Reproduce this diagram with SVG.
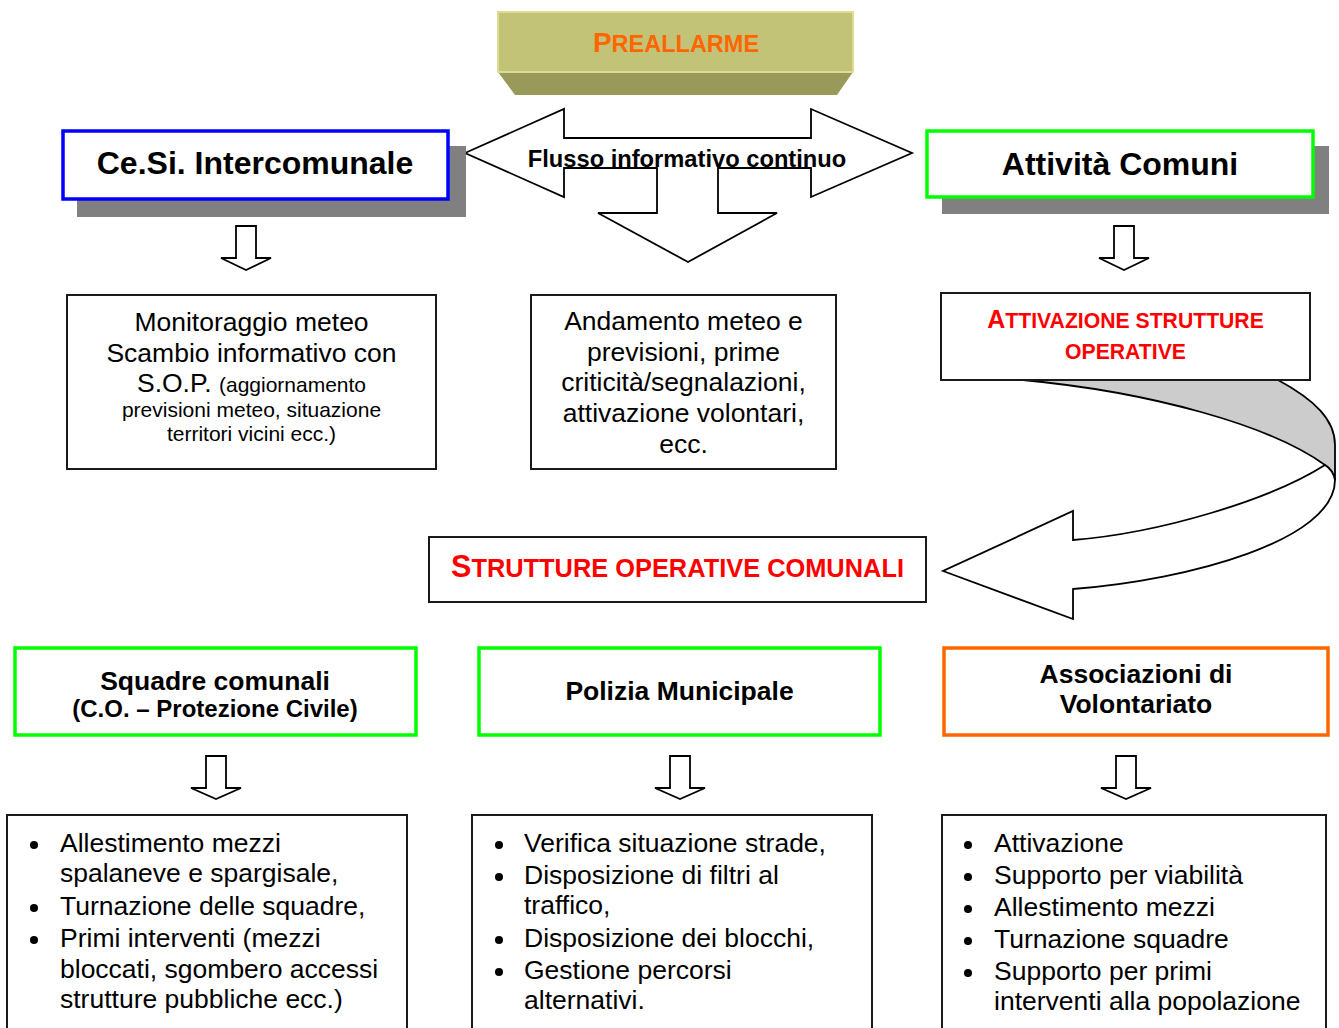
<svg xmlns="http://www.w3.org/2000/svg" width="1339" height="1028" viewBox="0 0 1339 1028">
<style>
text{font-family:"Liberation Sans",Arial,sans-serif;fill:#000}
.b{font-weight:bold}
.box{fill:#fff;stroke:#1a1a1a;stroke-width:2}
.shadow{fill:#808080}
.t{font-size:26.5px}
.c{text-anchor:middle}
.sm{font-size:21px}
.red{fill:#ff0000;font-weight:bold}
.arr{fill:#fff;stroke:#000;stroke-width:1.8;stroke-linejoin:miter}
.dot{fill:#000}
</style>
<rect width="1339" height="1028" fill="#fff"/>

<g id="preallarme">
<polygon points="498,72 853,72 837,95 515,95" fill="#999959"/>
<rect x="498" y="12" width="355" height="60" fill="#c3c378" stroke="#dcdc92" stroke-width="2"/>
<text x="676" y="52" class="b c" style="fill:#ff6600"><tspan font-size="28">P</tspan><tspan font-size="23.5">REALLARME</tspan></text>
</g>

<g id="connectors">
<path class="arr" d="M465,153 L564,109 L564,138 L811,138 L811,109 L912,153 L811,197 L811,168 L718,168 L718,213 L777,213 L688,262 L598,213 L657,213 L657,168 L564,168 L564,197 Z"/>
<text x="687" y="167" class="b c" font-size="23.7">Flusso informativo continuo</text>
<path class="arr" d="M236,226 H256 V258 H271 L246,270 L221,258 H236 Z"/>
<path class="arr" d="M1114,226 H1134 V258 H1149 L1124,270 L1099,258 H1114 Z"/>
<path d="M1023,380 L1278,380 C1315,400 1335,420 1335,445 L1335,480 Q1333,470 1325,465 C1270,425 1150,392 1023,380 Z" fill="#cccccc" stroke="#000" stroke-width="1.8"/>
<path class="arr" d="M1325,465 C1270,500 1160,533 1073,540 L1073,511 L943,571 L1073,619 L1073,589 C1190,580 1335,540 1335,480 Q1333,470 1325,465 Z"/>
<path class="arr" d="M206,756 H226 V788 H241 L216,799 L191,788 H206 Z"/>
<path class="arr" d="M670,756 H690 V788 H705 L680,799 L655,788 H670 Z"/>
<path class="arr" d="M1116,756 H1136 V788 H1151 L1126,799 L1101,788 H1116 Z"/>
</g>

<g id="cesi">
<rect class="shadow" x="77" y="146" width="389" height="71"/>
<rect x="63" y="131" width="385" height="68" fill="#fff" stroke="#0000ff" stroke-width="3.5"/>
<text x="255" y="174" class="b c" font-size="32">Ce.Si. Intercomunale</text>
</g>

<g id="attivita">
<rect class="shadow" x="942" y="146" width="387" height="68"/>
<rect x="927" y="131" width="386" height="66" fill="#fff" stroke="#00ff00" stroke-width="3.5"/>
<text x="1120" y="175" class="b c" font-size="32">Attività Comuni</text>
</g>

<g id="monitoraggio">
<rect class="box" x="67" y="295" width="369" height="174"/>
<text class="t c" x="251.5" y="331">Monitoraggio meteo</text>
<text class="t c" x="251.5" y="362">Scambio informativo con</text>
<text class="c" x="251.5" y="392"><tspan font-size="26.5">S.O.P. </tspan><tspan font-size="21">(aggiornamento</tspan></text>
<text class="sm c" x="251.5" y="417">previsioni meteo, situazione</text>
<text class="sm c" x="251.5" y="441">territori vicini ecc.)</text>
</g>

<g id="andamento">
<rect class="box" x="531" y="295" width="305" height="174"/>
<text class="t c" x="683.5" y="330">Andamento meteo e</text>
<text class="t c" x="683.5" y="361">previsioni, prime</text>
<text class="t c" x="683.5" y="391">criticità/segnalazioni,</text>
<text class="t c" x="683.5" y="422">attivazione volontari,</text>
<text class="t c" x="683.5" y="453">ecc.</text>
</g>

<g id="attivazione">
<rect class="box" x="941" y="293" width="369" height="87"/>
<text class="red c" x="1125.5" y="328"><tspan font-size="25">A</tspan><tspan font-size="21.2">TTIVAZIONE STRUTTURE</tspan></text>
<text class="red c" x="1125.5" y="359" font-size="21.2">OPERATIVE</text>
</g>

<g id="strutture">
<rect class="box" x="429" y="537" width="497" height="65"/>
<text class="red c" x="677.5" y="577"><tspan font-size="30.5">S</tspan><tspan font-size="25.4">TRUTTURE OPERATIVE COMUNALI</tspan></text>
</g>

<g id="squadre">
<rect x="15" y="648" width="401" height="87" fill="#fff" stroke="#00ff00" stroke-width="3.5"/>
<text class="b c" x="215" y="690" font-size="26.5">Squadre comunali</text>
<text class="b c" x="215" y="717" font-size="24">(C.O. – Protezione Civile)</text>
</g>

<g id="polizia">
<rect x="479" y="648" width="401" height="87" fill="#fff" stroke="#00ff00" stroke-width="3.5"/>
<text class="b c" x="679.5" y="700" font-size="26.5">Polizia Municipale</text>
</g>

<g id="associazioni">
<rect x="944" y="648" width="384" height="87" fill="#fff" stroke="#ff6600" stroke-width="3.5"/>
<text class="b c" x="1136" y="683" font-size="26.5">Associazioni di</text>
<text class="b c" x="1136" y="713" font-size="26.5">Volontariato</text>
</g>

<g id="lista-squadre">
<rect class="box" x="7" y="815" width="400" height="230"/>
<circle class="dot" cx="34" cy="845" r="4"/>
<circle class="dot" cx="34" cy="908" r="4"/>
<circle class="dot" cx="34" cy="940" r="4"/>
<text class="t" x="60" y="852">Allestimento mezzi</text>
<text class="t" x="60" y="882">spalaneve e spargisale,</text>
<text class="t" x="60" y="915">Turnazione delle squadre,</text>
<text class="t" x="60" y="947">Primi interventi (mezzi</text>
<text class="t" x="60" y="978">bloccati, sgombero accessi</text>
<text class="t" x="60" y="1008">strutture pubbliche ecc.)</text>
</g>

<g id="lista-polizia">
<rect class="box" x="472" y="815" width="400" height="230"/>
<circle class="dot" cx="499" cy="845" r="4"/>
<circle class="dot" cx="499" cy="877" r="4"/>
<circle class="dot" cx="499" cy="940" r="4"/>
<circle class="dot" cx="499" cy="972" r="4"/>
<text class="t" x="524" y="852">Verifica situazione strade,</text>
<text class="t" x="524" y="884">Disposizione di filtri al</text>
<text class="t" x="524" y="914">traffico,</text>
<text class="t" x="524" y="947">Disposizione dei blocchi,</text>
<text class="t" x="524" y="979">Gestione percorsi</text>
<text class="t" x="524" y="1009">alternativi.</text>
</g>

<g id="lista-associazioni">
<rect class="box" x="942" y="815" width="384" height="230"/>
<circle class="dot" cx="968" cy="845" r="4"/>
<circle class="dot" cx="968" cy="877" r="4"/>
<circle class="dot" cx="968" cy="909" r="4"/>
<circle class="dot" cx="968" cy="941" r="4"/>
<circle class="dot" cx="968" cy="973" r="4"/>
<text class="t" x="994" y="852">Attivazione</text>
<text class="t" x="994" y="884">Supporto per viabilità</text>
<text class="t" x="994" y="916">Allestimento mezzi</text>
<text class="t" x="994" y="948">Turnazione squadre</text>
<text class="t" x="994" y="980">Supporto per primi</text>
<text class="t" x="994" y="1010">interventi alla popolazione</text>
</g>
</svg>
